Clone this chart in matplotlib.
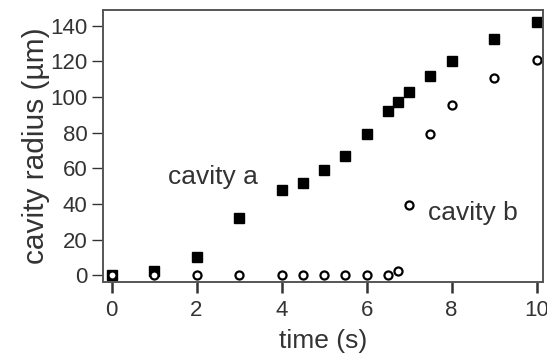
import matplotlib
matplotlib.use("Agg")
import matplotlib.pyplot as plt

plt.rcParams['font.family'] = ['Liberation Sans', 'DejaVu Sans']

time_a = [0, 1, 2, 3, 4, 4.5, 5, 5.5, 6, 6.5, 6.75, 7, 7.5, 8, 9, 10]
radius_a = [0, 2.5, 10, 32, 48, 52, 59, 67, 79, 92, 97, 103, 112, 120, 132.5, 142]
time_b = [0, 1, 2, 3, 4, 4.5, 5, 5.5, 6, 6.5, 6.75, 7, 7.5, 8, 9, 10]
radius_b = [0, 0, 0, 0, 0, 0, 0, 0, 0, 0, 2.2, 39.5, 79.5, 95.5, 110.5, 120.5]
xticks = [0, 2, 4, 6, 8, 10]
yticks = [0, 20, 40, 60, 80, 100, 120, 140]

tc = '#333333'
fig = plt.figure(figsize=(5.47, 3.56), dpi=100)
ax = fig.add_axes([103/547, 1-282/356, (543-103)/547, (282-10)/356])

ax.plot(time_a, radius_a, linestyle='none', marker='s', markersize=7.4,
        color='black')
ax.plot(time_b, radius_b, linestyle='none', marker='o', markersize=5.8,
        markerfacecolor='white', markeredgecolor='black', markeredgewidth=1.6)

ax.set_xlim(-0.2, 10.15)
ax.set_ylim(-3.8, 148.8)
ax.set_xticks(xticks)
ax.set_yticks(yticks)
ax.tick_params(axis='both', labelsize=16, colors=tc, labelcolor=tc)
ax.tick_params(axis='x', length=8, width=1.8, direction='out', pad=5)
ax.tick_params(axis='y', length=8, width=1.0, direction='out', pad=3)
for s in ax.spines.values():
    s.set_linewidth(1.4)
    s.set_color('#555555')

ax.set_xlabel('time (s)', fontsize=19, color=tc, labelpad=6)
ax.set_ylabel('cavity radius (µm)', fontsize=21.5, color=tc, labelpad=0)

ax.text(2.38, 55, 'cavity a', fontsize=19, color=tc, ha='center', va='center')
ax.text(8.5, 35, 'cavity b', fontsize=19, color=tc, ha='center', va='center')

fig.savefig('out.png', dpi=100)
